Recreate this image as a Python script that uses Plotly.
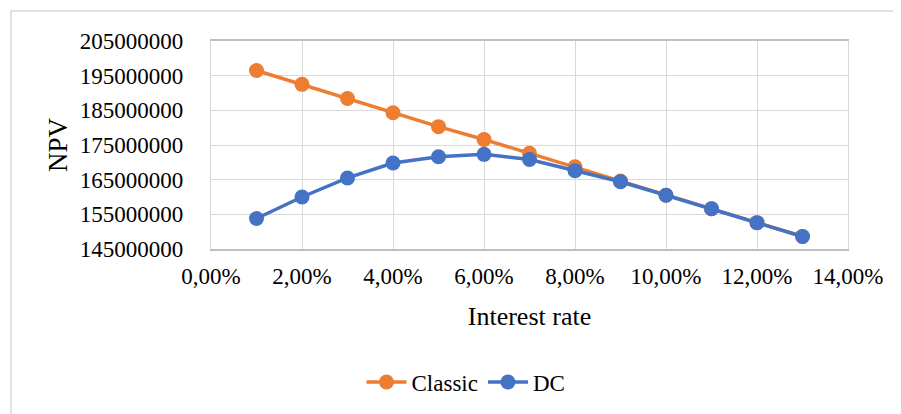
import plotly.graph_objects as go

rates = [0.01, 0.02, 0.03, 0.04, 0.05, 0.06, 0.07, 0.08, 0.09, 0.10, 0.11, 0.12, 0.13]
classic = [196500000, 192500000, 188400000, 184300000, 180300000, 176600000, 172600000,
           168700000, 164600000, 160500000, 156600000, 152600000, 148600000]
dc = [153800000, 160000000, 165500000, 169800000, 171600000, 172300000, 170800000,
      167600000, 164400000, 160500000, 156600000, 152600000, 148600000]
x_tickvals = [0, 0.02, 0.04, 0.06, 0.08, 0.10, 0.12, 0.14]
x_ticktext = ["0,00%", "2,00%", "4,00%", "6,00%", "8,00%", "10,00%", "12,00%", "14,00%"]
y_tickvals = [145000000, 155000000, 165000000, 175000000, 185000000, 195000000, 205000000]

FONT = "Liberation Serif, Times New Roman, serif"
W, H = 901, 414
OFF = 8  # page body margin
L, R, T, B = 211 - OFF, W - 848 + OFF, 41 - OFF, H - 249 + OFF

fig = go.Figure()
fig.add_trace(go.Scatter(x=rates, y=classic, name="Classic", mode="lines+markers",
                         line=dict(color="#ED7D31", width=3.5),
                         marker=dict(color="#ED7D31", size=15)))
fig.add_trace(go.Scatter(x=rates, y=dc, name="DC", mode="lines+markers",
                         line=dict(color="#4472C4", width=3.5),
                         marker=dict(color="#4472C4", size=15)))

pw = W - L - R
ph = H - T - B
fig.add_shape(type="rect", xref="paper", yref="paper",
              x0=(11 - OFF - L) / pw, x1=(W + 20 - L) / pw,
              y0=-(H + 20 - (H - B)) / ph, y1=1 + (T - (11 - OFF)) / ph,
              line=dict(color="#d9d9d9", width=1.5), layer="below")

fig.update_layout(
    width=W, height=H,
    margin=dict(l=L, r=R, t=T, b=B),
    paper_bgcolor="white", plot_bgcolor="white",
    font=dict(family=FONT, size=23, color="black"),
    showlegend=True,
    legend=dict(orientation="h", x=(466 - OFF - L) / pw, xanchor="center",
                y=(H - B - (382 - OFF)) / ph, yanchor="middle",
                font=dict(family=FONT, size=23), itemwidth=40),
    xaxis=dict(range=[0, 0.14], tickvals=x_tickvals, ticktext=x_ticktext,
               showgrid=True, gridcolor="#d9d9d9", gridwidth=1.3,
               showline=True, linecolor="#bfbfbf", linewidth=1.5, mirror=True,
               ticks="outside", ticklen=6, tickcolor="rgba(0,0,0,0)",
               zeroline=False,
               title=dict(text="Interest rate", font=dict(family=FONT, size=26), standoff=18)),
    yaxis=dict(range=[145000000, 205000000], tickvals=y_tickvals, tickformat="d",
               showgrid=True, gridcolor="#d9d9d9", gridwidth=1.3,
               showline=True, linecolor="#d9d9d9", linewidth=1.3, mirror=True,
               ticks="outside", ticklen=22, tickcolor="rgba(0,0,0,0)",
               zeroline=False,
               title=dict(text="NPV", font=dict(family=FONT, size=27), standoff=4)),
)

fig.write_html("out.html")
